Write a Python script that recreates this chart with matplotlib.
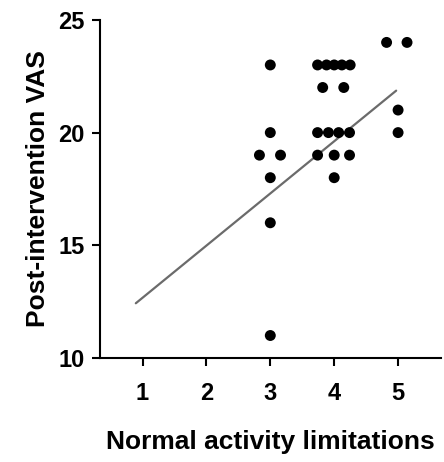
import numpy as np
import matplotlib
matplotlib.use("Agg")
import matplotlib.pyplot as plt

# scatter points (x is jittered around the integer category)
x_vals = [2.83, 3.0, 3.0, 3.0, 3.0, 3.0, 3.16,
          3.74, 3.88, 4.0, 4.12, 4.25,
          3.82, 4.15,
          3.74, 3.91, 4.07, 4.24,
          3.74, 4.0, 4.24,
          4.0,
          4.82, 5.14, 5.0, 5.0]
y_vals = [19, 23, 20, 18, 16, 11, 19,
          23, 23, 23, 23, 23,
          22, 22,
          20, 20, 20, 20,
          19, 19, 19,
          18,
          24, 24, 21, 20]

# regression line endpoints as drawn
line_x = [0.895, 4.97]
line_y = [12.43, 21.86]

x_ticks = [1, 2, 3, 4, 5]
y_ticks = [10, 15, 20, 25]

plt.rcParams['font.family'] = ['Liberation Sans', 'DejaVu Sans']
plt.rcParams['font.weight'] = 'bold'

fig = plt.figure(figsize=(4.44, 4.62), dpi=100)
ax = fig.add_axes([0.225, 0.225, 0.768, 0.732])

ax.plot(line_x, line_y, color='#6b6b6b', linewidth=1.6, solid_capstyle='round', zorder=2)
ax.scatter(x_vals, y_vals, s=62, color='black', edgecolors='none', zorder=3)

ax.set_xlim(0.333, 5.67)
ax.set_ylim(10, 25)
ax.set_xticks(x_ticks)
ax.set_yticks(y_ticks)

for side in ['top', 'right']:
    ax.spines[side].set_visible(False)
for side in ['left', 'bottom']:
    ax.spines[side].set_linewidth(1.5)

ax.tick_params(axis='both', direction='out', length=6, width=1.5, labelsize=17, pad=5)
ax.tick_params(axis='x', pad=11)
for lab in ax.get_xticklabels() + ax.get_yticklabels():
    lab.set_fontweight('bold')

ax.set_xlabel('Normal activity limitations', fontsize=19, fontweight='bold', labelpad=18)
ax.set_ylabel('Post-intervention VAS', fontsize=19, fontweight='bold', labelpad=6)

fig.savefig('out.png', dpi=100)
